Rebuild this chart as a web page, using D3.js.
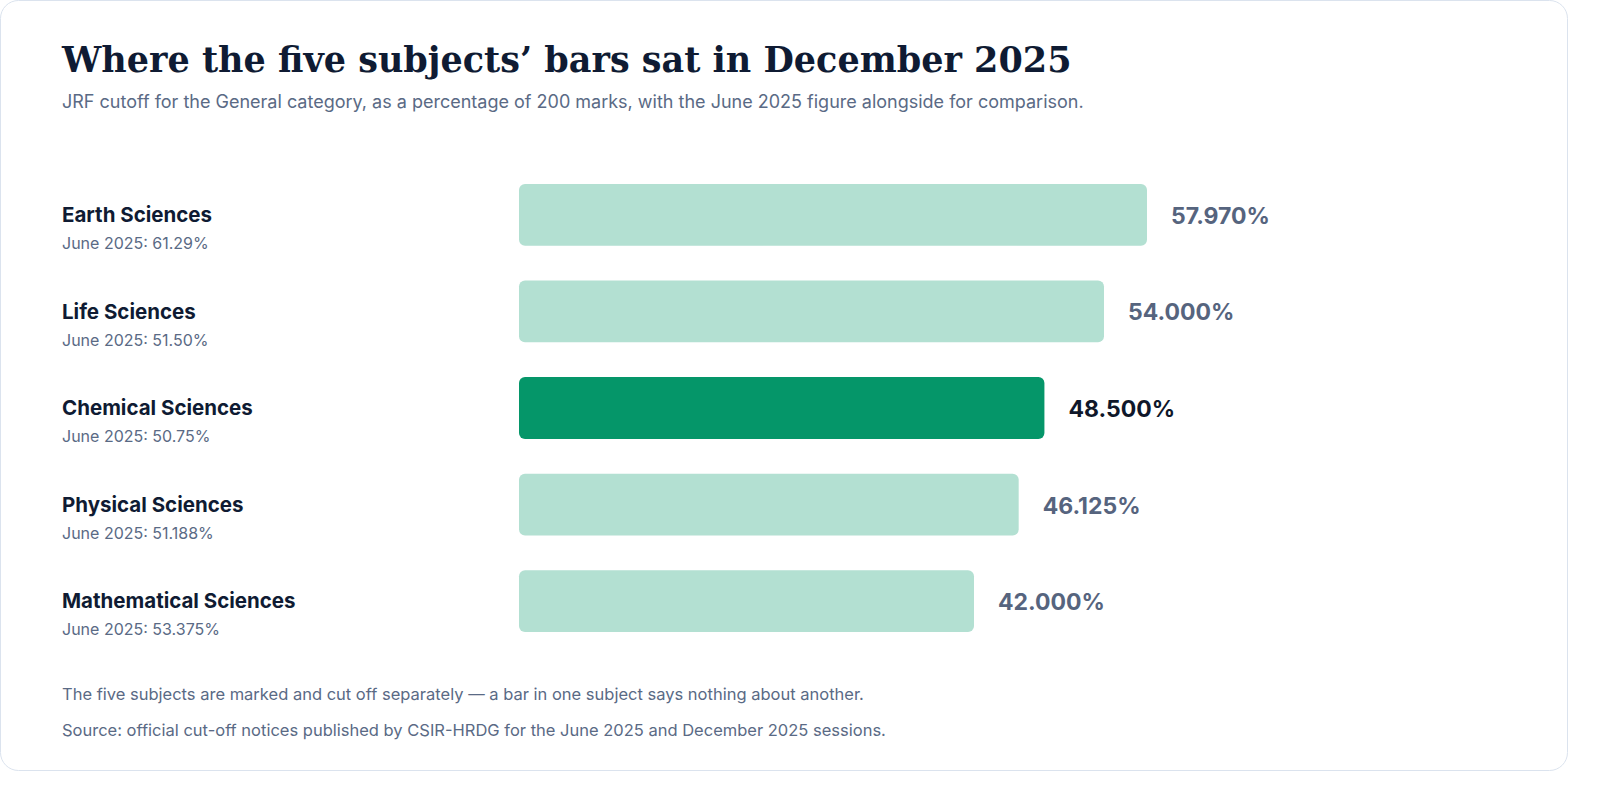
<!DOCTYPE html>
<html><head><meta charset="utf-8">
<script src="https://cdn.jsdelivr.net/npm/d3@7"></script>
<style>body{margin:0;background:#fff;}svg{display:block;}</style>
</head><body>
<svg id="c" width="1600" height="788"></svg>
<script>
const subjects = ["Earth Sciences","Life Sciences","Chemical Sciences","Physical Sciences","Mathematical Sciences"];
const dec2025 = [57.970, 54.000, 48.500, 46.125, 42.000];
const jun2025Labels = ["61.29%","51.50%","50.75%","51.188%","53.375%"];
const highlighted = "Chemical Sciences";
const SANS = "Inter, Liberation Sans, Arial, sans-serif";

const svg = d3.select("#c");
svg.append("rect").attr("x",0.5).attr("y",0.5).attr("width",1567).attr("height",770)
  .attr("rx",18).attr("fill","#fff").attr("stroke","#dbe3ee");
svg.append("text").attr("x",62).attr("y",72).text("Where the five subjects’ bars sat in December 2025")
  .attr("font-family","DejaVu Serif, serif").attr("font-weight","bold").attr("font-size",35).attr("fill","#0f1b33");
svg.append("text").attr("x",62).attr("y",108).text("JRF cutoff for the General category, as a percentage of 200 marks, with the June 2025 figure alongside for comparison.")
  .attr("font-family",SANS).attr("font-size",18).attr("fill","#5a6a85");

const x = d3.scaleLinear().domain([0,60]).range([519,1169]);
const y = d3.scaleBand().domain(subjects).range([184,632]).paddingInner(0.36).paddingOuter(0);
const g = svg.append("g").selectAll("g").data(subjects).join("g");
g.append("rect").attr("x",x(0)).attr("y",d=>y(d)).attr("height",y.bandwidth())
  .attr("width",(d,i)=>x(dec2025[i])-x(0)).attr("rx",6)
  .attr("fill",d=>d===highlighted?"#059669":"#b3e0d2");
g.append("text").attr("x",(d,i)=>x(dec2025[i])+24).attr("y",d=>y(d)+y.bandwidth()/2+9)
  .text((d,i)=>dec2025[i].toFixed(3)+"%")
  .attr("font-family",SANS).attr("font-weight","bold").attr("font-size",23)
  .attr("fill",d=>d===highlighted?"#0f172a":"#56647e");
g.append("text").attr("x",62).attr("y",d=>y(d)+38).text(d=>d)
  .attr("font-family",SANS).attr("font-weight","bold").attr("font-size",20.5).attr("fill","#0f1b33");
g.append("text").attr("x",62).attr("y",d=>y(d)+65).text((d,i)=>"June 2025: "+jun2025Labels[i])
  .attr("font-family",SANS).attr("font-size",16).attr("fill","#5a6a85");

const notes = ["The five subjects are marked and cut off separately — a bar in one subject says nothing about another.",
 "Source: official cut-off notices published by CSIR-HRDG for the June 2025 and December 2025 sessions."];
svg.append("g").selectAll("text").data(notes).join("text").attr("x",62).attr("y",(d,i)=>700+i*36).text(d=>d)
  .attr("font-family",SANS).attr("font-size",16.5).attr("fill","#5a6a85");
</script></body></html>
